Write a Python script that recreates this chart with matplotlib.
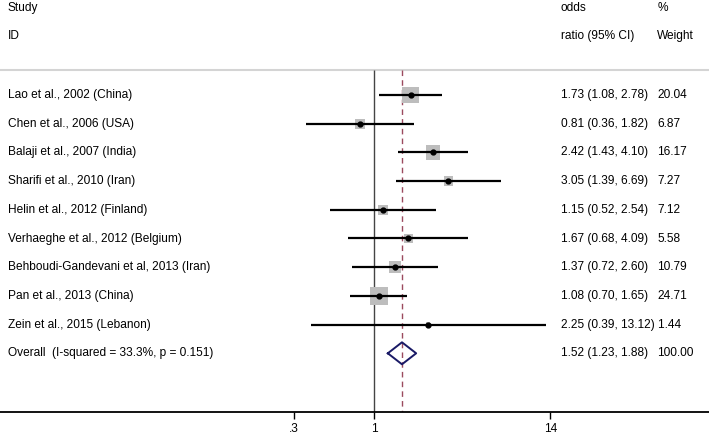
import numpy as np
import matplotlib.pyplot as plt
from matplotlib.patches import Rectangle

plt.rcParams['font.family'] = ['Liberation Sans', 'DejaVu Sans']

studies = ['Lao et al., 2002 (China)', 'Chen et al., 2006 (USA)',
           'Balaji et al., 2007 (India)', 'Sharifi et al., 2010 (Iran)',
           'Helin et al., 2012 (Finland)', 'Verhaeghe et al., 2012 (Belgium)',
           'Behboudi-Gandevani et al, 2013 (Iran)', 'Pan et al., 2013 (China)',
           'Zein et al., 2015 (Lebanon)']
odds = [1.73, 0.81, 2.42, 3.05, 1.15, 1.67, 1.37, 1.08, 2.25]
lower = [1.08, 0.36, 1.43, 1.39, 0.52, 0.68, 0.72, 0.70, 0.39]
upper = [2.78, 1.82, 4.10, 6.69, 2.54, 4.09, 2.60, 1.65, 13.12]
weight = [20.04, 6.87, 16.17, 7.27, 7.12, 5.58, 10.79, 24.71, 1.44]

overall_label = 'Overall  (I-squared = 33.3%, p = 0.151)'
overall = (1.52, 1.23, 1.88)
overall_weight = 100.00

xticks = [0.3, 1, 14]
xticklabels = ['.3', '1', '14']

# pixel geometry of the reference
px_per_ln = 66.8
x_one = 374.0
row0, row_h = 95.0, 28.7
W, H, axis_y = 709, 436, 412

fig = plt.figure(figsize=(7.09, 4.36), dpi=100)
ax = fig.add_axes([0, (H - axis_y) / H, 1, axis_y / H])
ax.set_xscale('log')
ax.set_xlim(np.exp(-x_one / px_per_ln), np.exp((W - x_one) / px_per_ln))
ybot = (axis_y - row0) / row_h
ytop = (0 - row0) / row_h
ax.set_ylim(ybot, ytop)

fs = 8.6
for s in ['left', 'right', 'top']:
    ax.spines[s].set_visible(False)
ax.spines['bottom'].set_linewidth(1.3)
ax.set_yticks([])
ax.set_xticks(xticks)
ax.set_xticklabels(xticklabels, fontsize=fs)
ax.minorticks_off()
ax.tick_params(axis='x', length=5, width=1, pad=3)

line_y = (70 - row0) / row_h
ax.axhline(line_y, color='#d4d4d4', lw=1.5)
ax.vlines(1, line_y, ybot, color='#444444', lw=1)
ax.vlines(overall[0], line_y, ybot, color='#9b4a5e', lw=1,
          linestyles=(0, (4, 3)))

rows = np.arange(len(studies))
for i in rows:
    side = 3.7 * np.sqrt(weight[i])
    hx = side / 2 / px_per_ln
    hy = side / 2 / row_h
    ax.add_patch(Rectangle((odds[i] * np.exp(-hx), i - hy),
                           odds[i] * (np.exp(hx) - np.exp(-hx)), 2 * hy,
                           color='#bdbdbd', lw=0, zorder=2))
ax.hlines(rows, lower, upper, color='black', lw=1.6, zorder=3)
ax.plot(odds, rows, 'o', color='black', ms=3.5, zorder=4)

k = len(studies)
dy = 11 / row_h
ax.plot([overall[1], overall[0], overall[2], overall[0], overall[1]],
        [k, k - dy, k, k + dy, k], color='#1a1a66', lw=1.4, zorder=4)

tr = ax.get_yaxis_transform()
hdr1 = (8 - row0) / row_h
hdr2 = (36 - row0) / row_h
ax.text(0.011, hdr1, 'Study', transform=tr, fontsize=fs, va='center')
ax.text(0.011, hdr2, 'ID', transform=tr, fontsize=fs, va='center')
ax.text(0.791, hdr1, 'odds', transform=tr, fontsize=fs, va='center')
ax.text(0.791, hdr2, 'ratio (95% CI)', transform=tr, fontsize=fs, va='center')
ax.text(0.927, hdr1, '%', transform=tr, fontsize=fs, va='center')
ax.text(0.927, hdr2, 'Weight', transform=tr, fontsize=fs, va='center')

for i in rows:
    ci = f'{odds[i]:.2f} ({lower[i]:.2f}, {upper[i]:.2f})'
    ax.text(0.011, i, studies[i], transform=tr, fontsize=fs, va='center')
    if upper[i] >= 10:
        ax.text(0.791, i, f'{ci} {weight[i]:.2f}', transform=tr, fontsize=fs,
                va='center')
    else:
        ax.text(0.791, i, ci, transform=tr, fontsize=fs, va='center')
        ax.text(0.927, i, f'{weight[i]:.2f}', transform=tr, fontsize=fs,
                va='center')

ax.text(0.011, k, overall_label, transform=tr, fontsize=fs, va='center')
ax.text(0.791, k, f'{overall[0]:.2f} ({overall[1]:.2f}, {overall[2]:.2f})',
        transform=tr, fontsize=fs, va='center')
ax.text(0.927, k, f'{overall_weight:.2f}', transform=tr, fontsize=fs,
        va='center')

fig.savefig('out.png', dpi=100)
